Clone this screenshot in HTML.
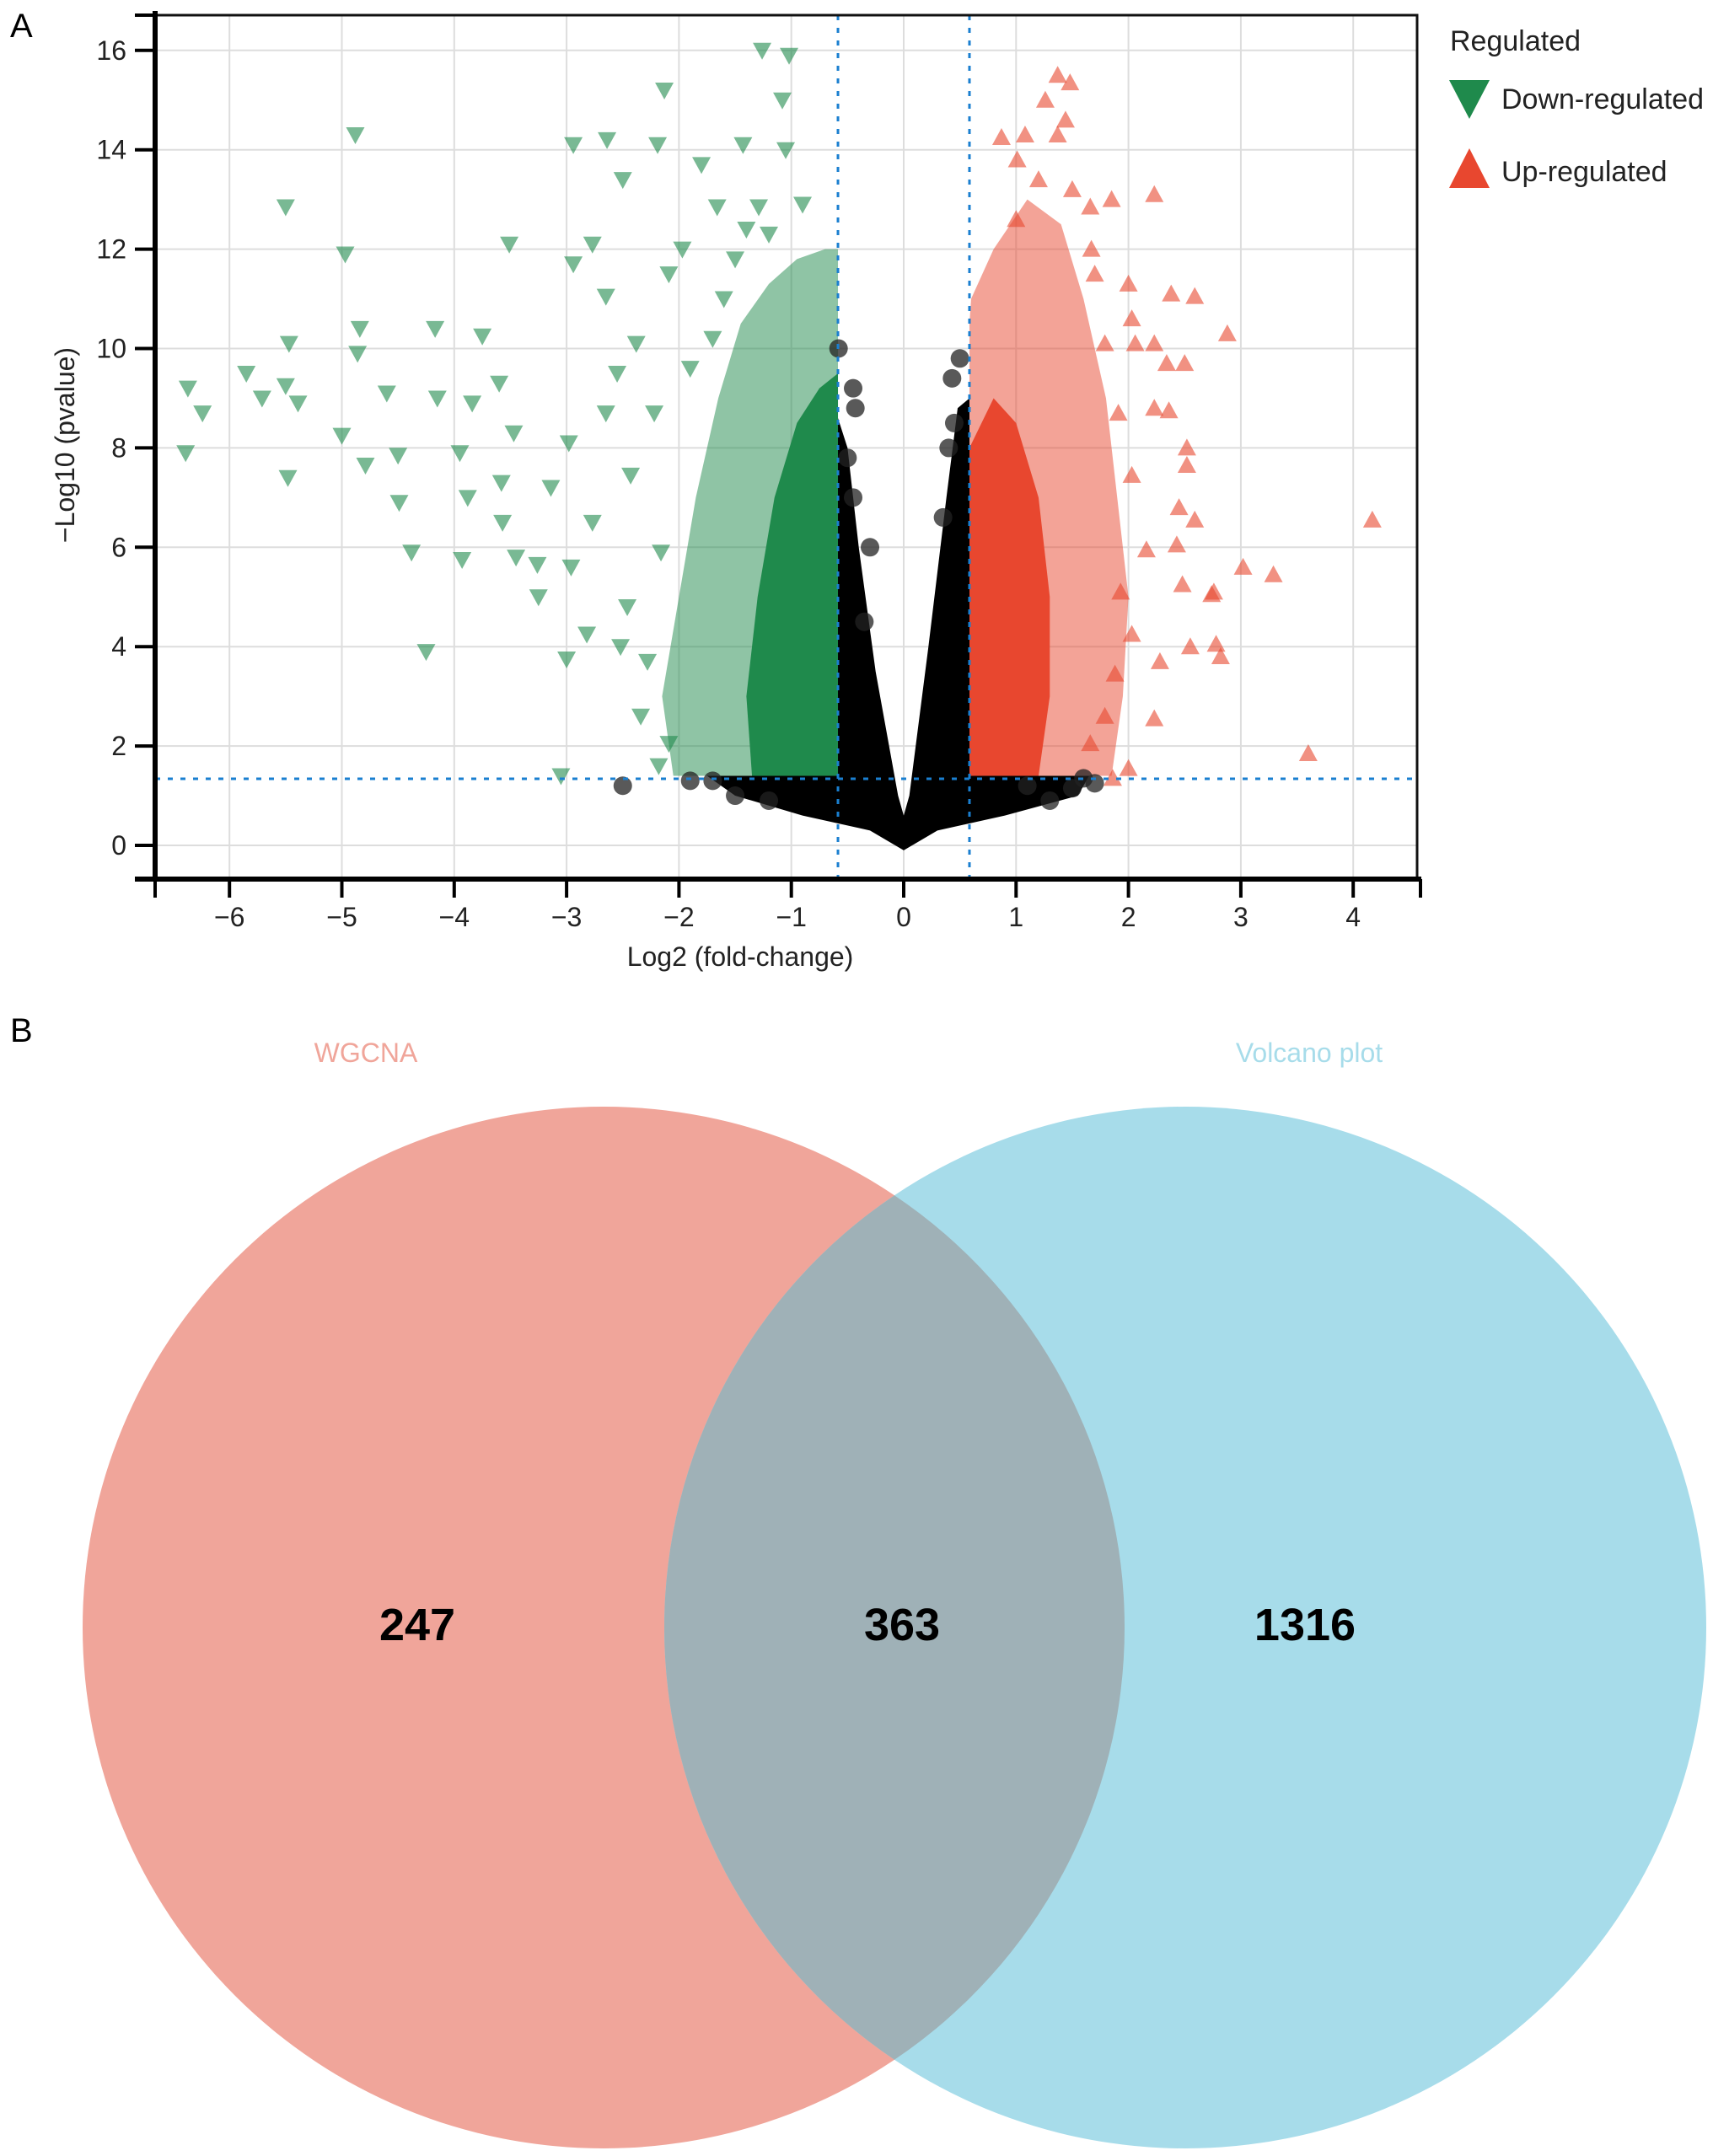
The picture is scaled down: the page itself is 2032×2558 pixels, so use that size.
<!DOCTYPE html>
<html><head><meta charset="utf-8"><style>
body{margin:0;background:#fff;}
svg{display:block;font-family:"Liberation Sans",Arial,sans-serif;}
</style></head><body>
<svg id="fig" width="2032" height="2558" viewBox="0 0 2032 2558" xmlns="http://www.w3.org/2000/svg">
<rect width="2032" height="2558" fill="#fff"/>
<text x="12" y="44" font-size="40">A</text>
<text x="12" y="1236" font-size="40">B</text>
<g id="volcano"></g>
<g id="legend">
  <text x="1720" y="60" font-size="34" fill="#222">Regulated</text>
  <polygon points="1719,95 1767,95 1743,141" fill="#1f8a4c"/>
  <text x="1781" y="129" font-size="34" fill="#222">Down-regulated</text>
  <polygon points="1719,223 1767,223 1743,176" fill="#e8472f"/>
  <text x="1781" y="215" font-size="34" fill="#222">Up-regulated</text>
</g>
<g id="venn"></g>
</svg>
<script>
const xTicks=[-6,-5,-4,-3,-2,-1,0,1,2,3,4];
const yTicks=[0,2,4,6,8,10,12,14,16];
const fcCut=0.585, pCut=1.34;
const downX=[-1.26,-1.02,-2.13,-1.08,-4.88,-2.94,-2.64,-2.19,-1.80,-1.43,-1.05,-5.5,-4.97,-3.51,-2.94,-2.50,-2.77,-4.84,-5.47,-4.17,-3.75,-4.86,-6.37,-5.85,-6.24,-5.71,-5.5,-5.39,-4.6,-5.0,-6.39,-5.48,-4.79,-4.49,-4.5,-4.15,-3.84,-3.6,-3.95,-3.47,-4.38,-3.93,-3.58,-3.45,-4.25,-3.25,-3.0,-3.05,-2.18,-3.14,-2.98,-2.96,-2.77,-2.65,-2.43,-2.38,-2.55,-2.46,-2.52,-2.34,-2.82,-3.26,-3.57,-3.88,-2.22,-2.65,-2.09,-1.97,-1.66,-1.29,-2.16,-2.28,-2.09,-1.5,-1.2,-0.9,-1.7,-1.9,-1.6,-1.4];
const downY=[16.0,15.9,15.2,15.0,14.3,14.1,14.2,14.1,13.7,14.1,14.0,12.85,11.9,12.1,11.7,13.4,12.1,10.4,10.1,10.4,10.25,9.9,9.2,9.5,8.7,9.0,9.25,8.9,9.1,8.25,7.9,7.4,7.65,6.9,7.85,9.0,8.9,9.3,7.9,8.3,5.9,5.75,7.3,5.8,3.9,5.0,3.75,1.4,1.6,7.2,8.1,5.6,6.5,8.7,7.45,10.1,9.5,4.8,4.0,2.6,4.25,5.65,6.5,7.0,8.7,11.05,11.5,12.0,12.85,12.85,5.9,3.7,2.05,11.8,12.3,12.9,10.2,9.6,11.0,12.4];
const upX=[1.37,1.48,1.26,1.44,0.87,1.08,1.37,1.01,1.85,2.23,1.67,2.0,2.38,2.59,2.88,2.06,2.23,2.34,2.5,2.23,2.36,2.52,2.52,4.17,2.45,2.59,2.43,3.02,3.29,2.48,2.74,2.76,2.55,2.78,2.82,2.28,2.23,3.6,2.0,1.86,1.79,2.03,1.91,2.03,2.16,1.93,2.03,1.88,1.79,1.66,1.66,1.2,1.0,1.5,1.7];
const upY=[15.5,15.35,15.0,14.6,14.25,14.3,14.3,13.8,13.0,13.1,12.0,11.3,11.1,11.05,10.3,10.1,10.1,9.7,9.7,8.8,8.75,8.0,7.65,6.55,6.8,6.55,6.05,5.6,5.45,5.25,5.05,5.1,4.0,4.05,3.8,3.7,2.55,1.85,1.55,1.35,10.1,10.6,8.7,7.45,5.95,5.1,4.25,3.45,2.6,2.05,12.85,13.4,12.6,13.2,11.5];
const nsX=[-0.45,-0.43,-0.58,-0.5,-0.45,0.43,0.5,0.45,0.4,-2.5,-1.7,-1.5,-1.2,1.1,1.3,1.7,1.6,1.5,0.35,-0.3,-1.9,-0.35];
const nsY=[9.2,8.8,10.0,7.8,7.0,9.4,9.8,8.5,8.0,1.2,1.3,1.0,0.9,1.2,0.9,1.25,1.35,1.15,6.6,6.0,1.3,4.5];
const downOuterX=[-0.585,-2.05,-2.15,-2.0,-1.85,-1.65,-1.45,-1.2,-0.95,-0.7,-0.585];
const downOuterY=[1.4,1.4,3.0,5.0,7.0,9.0,10.5,11.3,11.8,12.0,12.0];
const downInnerX=[-0.585,-1.35,-1.4,-1.3,-1.15,-0.95,-0.75,-0.585];
const downInnerY=[1.4,1.4,3.0,5.0,7.0,8.5,9.2,9.5];
const upOuterX=[0.585,1.85,1.95,2.0,1.9,1.8,1.6,1.4,1.1,0.8,0.6,0.585];
const upOuterY=[1.4,1.4,3.0,5.0,7.0,9.0,11.0,12.5,13.0,12.0,11.0,10.5];
const upInnerX=[0.585,1.2,1.3,1.3,1.2,1.0,0.8,0.585];
const upInnerY=[1.4,1.4,3.0,5.0,7.0,8.5,9.0,8.0];
const nsPolyX=[0,-0.3,-0.9,-1.5,-1.75,-0.585,-0.585,-0.5,-0.4,-0.25,-0.05,0,0.05,0.22,0.38,0.48,0.585,0.585,1.65,1.55,0.9,0.3];
const nsPolyY=[-0.1,0.3,0.6,1.0,1.4,1.4,8.6,8.0,6.0,3.5,1.0,0.6,1.0,4.0,7.0,8.8,9.0,1.4,1.4,1.0,0.6,0.3];

const NS='http://www.w3.org/2000/svg';
const X=v=>1072+133.3*v;
const Y=v=>1003-58.95*v;
const L=184,R=1681,T=18,B=1043;
const g=document.getElementById('volcano');
function mk(t,a,p){const e=document.createElementNS(NS,t);for(const k in a)e.setAttribute(k,a[k]);(p||g).appendChild(e);return e;}
xTicks.forEach(v=>{const e=mk('line',{x1:X(v),x2:X(v),y1:T,y2:B,stroke:'#ddd','stroke-width':2});

});
yTicks.forEach(v=>{const e=mk('line',{x1:L,x2:R,y1:Y(v),y2:Y(v),stroke:'#ddd','stroke-width':2});

});
function poly(xs,ys,fill,op,name){const pts=xs.map((x,i)=>X(x)+','+Y(ys[i])).join(' ');
const e=mk('polygon',{points:pts,fill:fill,'fill-opacity':op});

}
poly(downOuterX,downOuterY,'#1f8a4c',0.5,'down-cloud-outer');
poly(downInnerX,downInnerY,'#1f8a4c',1,'down-cloud-core');
poly(upOuterX,upOuterY,'#e8472f',0.5,'up-cloud-outer');
poly(upInnerX,upInnerY,'#e8472f',1,'up-cloud-core');
poly(nsPolyX,nsPolyY,'#000',1,'ns-cloud');
nsX.forEach((x,i)=>{const e=mk('circle',{cx:X(x),cy:Y(nsY[i]),r:11,fill:'#222','fill-opacity':0.75});

});
downX.forEach((x,i)=>{const cx=X(x),cy=Y(downY[i]);
const e=mk('polygon',{points:(cx-11)+','+(cy-9)+' '+(cx+11)+','+(cy-9)+' '+cx+','+(cy+11),fill:'#1f8a4c','fill-opacity':0.6});

});
upX.forEach((x,i)=>{const cx=X(x),cy=Y(upY[i]);
const e=mk('polygon',{points:(cx-11)+','+(cy+9)+' '+(cx+11)+','+(cy+9)+' '+cx+','+(cy-11),fill:'#e8472f','fill-opacity':0.6});

});
[-fcCut,fcCut].forEach(v=>{const e=mk('line',{x1:X(v),x2:X(v),y1:T,y2:B,stroke:'#1a7fd0','stroke-width':3,'stroke-dasharray':'6,9'});

});
{const e=mk('line',{x1:L,x2:R,y1:Y(pCut),y2:Y(pCut),stroke:'#1a7fd0','stroke-width':3,'stroke-dasharray':'6,9'});

}
{const e=mk('rect',{x:L,y:T,width:R-L,height:B-T,fill:'none',stroke:'#111','stroke-width':3});

}
{const e=mk('line',{x1:L,x2:L,y1:T-5,y2:B+3,stroke:'#000','stroke-width':6});

}
{const e=mk('line',{x1:160,x2:R+5,y1:B,y2:B,stroke:'#000','stroke-width':6});

}
[L,R+4].forEach(x=>{const e=mk('line',{x1:x,x2:x,y1:B,y2:B+22,stroke:'#000','stroke-width':4});

});
{const e=mk('line',{x1:160,x2:L,y1:T,y2:T,stroke:'#000','stroke-width':4});

}
xTicks.forEach(v=>{const t=mk('line',{x1:X(v),x2:X(v),y1:B,y2:B+22,stroke:'#000','stroke-width':4});


const e=mk('text',{x:X(v),y:B+56,'font-size':32,'text-anchor':'middle',fill:'#222'});
e.textContent=(v<0?'\u2212':'')+Math.abs(v);

});
yTicks.forEach(v=>{const t=mk('line',{x1:160,x2:L,y1:Y(v),y2:Y(v),stroke:'#000','stroke-width':4});


const e=mk('text',{x:150,y:Y(v)+11,'font-size':32,'text-anchor':'end',fill:'#222'});
e.textContent=v;

});
{const e=mk('text',{x:878,y:1146,'font-size':32,'text-anchor':'middle',fill:'#222'});
e.textContent='Log2 (fold-change)';

}
{const e=mk('text',{x:0,y:0,'font-size':32,'text-anchor':'middle',fill:'#222',transform:'translate(88,528) rotate(-90)'});
e.textContent='\u2212Log10 (pvalue)';

}

const setNames=['WGCNA','Volcano plot'];
const regionCounts=[247,363,1316];
const v=document.getElementById('venn');
const c1={x:716,y:1931},c2={x:1406,y:1931},r=618;
{const e=mk('circle',{cx:c1.x,cy:c1.y,r:r,fill:'#f0a59a'},v);

}
{const e=mk('circle',{cx:c2.x,cy:c2.y,r:r,fill:'#a7dcea'},v);

}
const mx=(c1.x+c2.x)/2,hd=Math.sqrt(r*r-Math.pow((c2.x-c1.x)/2,2));
{const e=mk('path',{d:`M${mx},${c1.y-hd} A${r},${r} 0 0 1 ${mx},${c1.y+hd} A${r},${r} 0 0 1 ${mx},${c1.y-hd}Z`,fill:'#9fb1b7'},v);

}
{const e=mk('text',{x:434,y:1260,'font-size':32,'text-anchor':'middle',fill:'#f0a59a'},v);
e.textContent=setNames[0];

}
{const e=mk('text',{x:1553,y:1260,'font-size':32,'text-anchor':'middle',fill:'#a7dcea'},v);
e.textContent=setNames[1];

}
const numX=[495,1070,1548];
regionCounts.forEach((n,i)=>{const e=mk('text',{x:numX[i],y:1946,'font-size':54,'font-weight':'bold','text-anchor':'middle',fill:'#000'},v);
e.textContent=n;

});
</script>
</body></html>
